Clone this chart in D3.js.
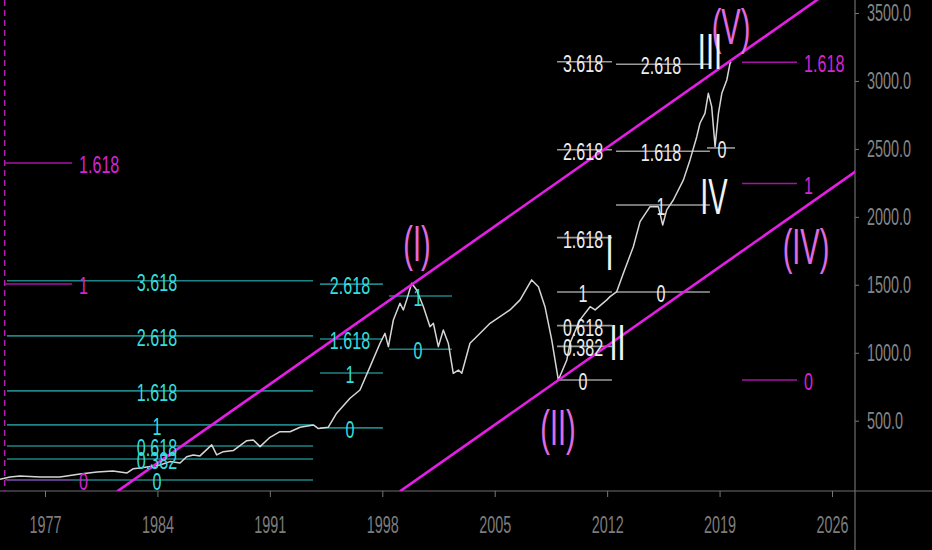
<!DOCTYPE html>
<html>
<head>
<meta charset="utf-8">
<script src="https://cdn.jsdelivr.net/npm/d3@7"></script>
<style>
  html, body { margin: 0; background: #000; overflow: hidden; }
  text { font-family: "Liberation Sans", Arial, sans-serif; }
</style>
</head>
<body>
<div class="chart"></div>
<script>
var svgWidth = 932;
var svgHeight = 550;
var plotRight = 855;
var plotBottom = 491;

// axis ticks
var yearTicks = [1977, 1984, 1991, 1998, 2005, 2012, 2019, 2026];
var priceTicks = [500, 1000, 1500, 2000, 2500, 3000, 3500];

// index close, [decimal year, value]
var price = [
  [1974.20, 69], [1974.82, 86], [1975.44, 93], [1976.69, 86], [1977.93, 86],
  [1979.18, 108], [1980.24, 123], [1981.23, 130], [1982.11, 116], [1982.48, 146],
  [1982.92, 152], [1984.16, 174], [1984.78, 199], [1985.41, 189], [1985.82, 235],
  [1986.23, 248], [1986.65, 241], [1987.38, 322], [1987.69, 248], [1988.10, 272],
  [1988.72, 280], [1989.56, 353], [1989.97, 358], [1990.39, 309], [1991.01, 378],
  [1991.63, 419], [1992.26, 419], [1992.88, 452], [1993.71, 469], [1994.02, 442],
  [1994.64, 452], [1995.16, 555], [1995.99, 665], [1996.61, 726], [1997.24, 898],
  [1997.86, 1070], [1998.17, 1143], [1998.38, 1045], [1998.69, 1241], [1999.10, 1364],
  [1999.31, 1315], [1999.52, 1389], [1999.83, 1511], [2000.14, 1462], [2000.56, 1339],
  [2000.97, 1192], [2001.18, 1217], [2001.49, 1045], [2001.80, 1168], [2002.11, 1070],
  [2002.42, 849], [2002.74, 873], [2002.95, 849], [2003.46, 1070], [2004.09, 1143],
  [2004.71, 1217], [2005.33, 1266], [2005.95, 1315], [2006.58, 1389], [2007.30, 1536],
  [2007.72, 1486], [2008.13, 1339], [2008.55, 1094], [2008.96, 800], [2009.49, 947],
  [2009.69, 1072], [2010.31, 1242], [2010.94, 1339], [2011.25, 1315], [2011.98, 1389],
  [2012.18, 1413], [2012.60, 1450], [2013.01, 1585], [2013.63, 1780], [2014.05, 1965],
  [2014.67, 2075], [2015.19, 2075], [2015.46, 1940], [2015.71, 2051], [2016.12, 2124],
  [2016.75, 2272], [2017.16, 2419], [2017.58, 2590], [2017.78, 2689], [2018.09, 2762],
  [2018.30, 2909], [2018.51, 2811], [2018.72, 2517], [2018.93, 2762], [2019.14, 2909],
  [2019.45, 3007], [2019.65, 3130], [2019.72, 3140]
];

// parallel trend channel, two points each
var channelUpper = [[1981.5, -20], [2027.5, 3798]];
var channelLower = [[1999.1, -20], [2027.5, 2337]];

// fibonacci extension sets: span in years, value of level 0, size of level 1
var fibSets = [
  { kind: "cyan", from: 1974.63, to: 1993.69, base: 64, unit: 405, labelAt: 1983.97, levels: [0, 0.382, 0.618, 1, 1.618, 2.618, 3.618] },
  { kind: "cyan", from: 1994.12, to: 1998.04, base: 447, unit: 404, labelAt: 1995.99, levels: [0, 1, 1.618, 2.618] },
  { kind: "cyan", from: 1998.42, to: 2002.34, base: 1026, unit: 392, labelAt: 2000.22, levels: [0, 1] },
  { kind: "white", from: 2008.88, to: 2012.30, base: 800, unit: 647, labelAt: 2010.50, levels: [0, 0.382, 0.618, 1, 1.618, 2.618, 3.618] },
  { kind: "white", from: 2012.55, to: 2018.40, base: 1447, unit: 640, labelAt: 2015.35, levels: [0, 1, 1.618, 2.618] },
  { kind: "white", from: 2018.22, to: 2019.96, base: 2507, unit: 640, labelAt: 2019.15, levels: [0] },
  { kind: "magenta", from: 1974.51, to: 1978.68, base: 66, unit: 1440, labelAt: 1979.12, levels: [0, 1, 1.618] },
  { kind: "magenta", from: 2020.40, to: 2023.82, base: 800, unit: 1445, labelAt: 2024.26, levels: [0, 1, 1.618] }
];

// wave counts: [year, value at baseline, text]
var majorWaves = [[2000.16, 1675, "(I)"], [2008.94, 321, "(II)"], [2024.38, 1653, "(IV)"], [2019.71, 3272, "(V)"]];
var minorWaves = [[2012.15, 1609, "I"], [2012.65, 947, "II"], [2018.40, 3088, "III"], [2018.65, 2021, "IV"]];

var cycleStart = 1974.49;

var fibStyle = {
  cyan: { line: "#1d8585", text: "#33dede", anchor: "middle" },
  white: { line: "#9c9c9c", text: "#ececec", anchor: "middle" },
  magenta: { line: "#a614a6", text: "#d424d4", anchor: "start" }
};

var svg = d3.select(".chart")
  .append("svg")
  .attr("width", svgWidth)
  .attr("height", svgHeight)
  .style("background", "#000");

var x = d3.scaleLinear().domain([1977, 2026]).range([45, 832]);
var y = d3.scaleLinear().domain([500, 3500]).range([420.7, 13]);

svg.append("clipPath").attr("id", "plot")
  .append("rect").attr("width", plotRight).attr("height", plotBottom);

// narrow, tall text like the screenshot
function scaledText(parent, px, py, str, size, sx, fill, anchor) {
  return parent.append("text")
    .attr("transform", `translate(${px},${py}) scale(${sx},1)`)
    .attr("text-anchor", anchor)
    .attr("font-size", size)
    .attr("fill", fill)
    .text(str);
}

// axes
var xAxis = svg.append("g")
  .attr("transform", `translate(0,${plotBottom})`)
  .call(d3.axisBottom(x).tickValues(yearTicks).tickFormat(d3.format("d")).tickSize(6));
xAxis.select(".domain").remove();
xAxis.selectAll("line").attr("stroke", "#777");
xAxis.selectAll("text")
  .attr("y", 25)
  .attr("font-size", 24)
  .attr("fill", "#7c7c7c")
  .attr("transform", "scale(0.6,1)");

var yAxis = svg.append("g")
  .attr("transform", `translate(${plotRight},0)`)
  .call(d3.axisRight(y).tickValues(priceTicks).tickFormat(d3.format(".1f")).tickSize(4));
yAxis.select(".domain").remove();
yAxis.selectAll("line").attr("stroke", "#777");
yAxis.selectAll("text")
  .attr("x", 20)
  .attr("font-size", 24)
  .attr("fill", "#858585")
  .attr("transform", "scale(0.6,1)");

svg.append("line").attr("x1", 0).attr("x2", svgWidth)
  .attr("y1", plotBottom).attr("y2", plotBottom)
  .attr("stroke", "#6e6e6e").attr("stroke-width", 1.2);
svg.append("line").attr("x1", plotRight).attr("x2", plotRight)
  .attr("y1", 0).attr("y2", svgHeight)
  .attr("stroke", "#6e6e6e").attr("stroke-width", 1.2);

var plot = svg.append("g").attr("clip-path", "url(#plot)");

// dashed cycle marker
plot.append("line")
  .attr("x1", x(cycleStart)).attr("x2", x(cycleStart))
  .attr("y1", 0).attr("y2", plotBottom)
  .attr("stroke", "#b01eb0").attr("stroke-width", 1.5)
  .attr("stroke-dasharray", "6,4");

// fib lines
fibSets.forEach(function(s) {
  var st = fibStyle[s.kind];
  s.levels.forEach(function(lv) {
    var v = s.base + lv * s.unit;
    plot.append("line")
      .attr("x1", x(s.from)).attr("x2", x(s.to))
      .attr("y1", y(v)).attr("y2", y(v))
      .attr("stroke", st.line).attr("stroke-width", 1.6);
  });
});

// price line
var priceLine = d3.line().x(d => x(d[0])).y(d => y(d[1]));
plot.append("path")
  .datum(price)
  .attr("d", priceLine)
  .attr("fill", "none")
  .attr("stroke", "#d6d6d6")
  .attr("stroke-width", 1.5)
  .attr("stroke-linejoin", "round");

// fib labels
fibSets.forEach(function(s) {
  var st = fibStyle[s.kind];
  s.levels.forEach(function(lv) {
    var v = s.base + lv * s.unit;
    scaledText(svg, x(s.labelAt), y(v) + 10, String(lv), 23, 0.7, st.text, st.anchor);
  });
});

// channel
[channelUpper, channelLower].forEach(function(c) {
  plot.append("path")
    .datum(c)
    .attr("d", priceLine)
    .attr("stroke", "#e41ee4")
    .attr("stroke-width", 2.6)
    .attr("fill", "none");
});

// wave counts
majorWaves.forEach(function(w) {
  scaledText(svg, x(w[0]), y(w[1]), w[2], 50, 0.58, "#e06ae0", "middle");
});
minorWaves.forEach(function(w) {
  scaledText(svg, x(w[0]), y(w[1]), w[2], 50, 0.58, "#f2f2f2", "middle");
});
</script>
</body>
</html>
